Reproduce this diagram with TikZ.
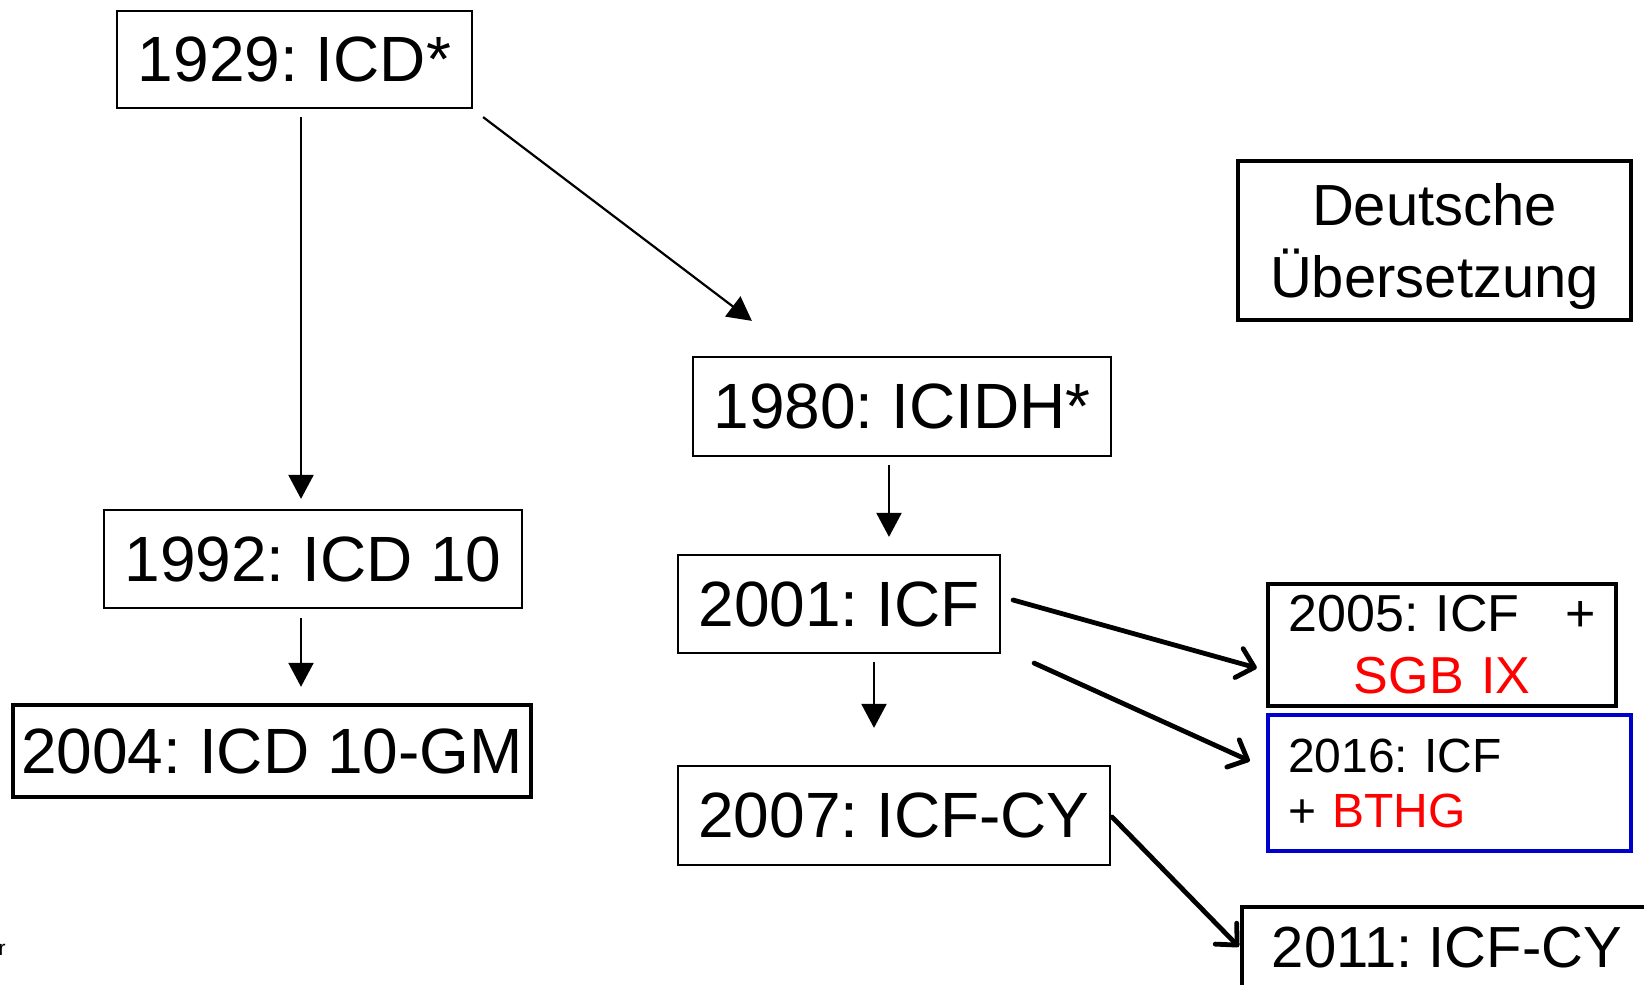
\documentclass[tikz,border=0pt]{standalone}
\usepackage{fontspec}
\setmainfont{Liberation Sans}
\usetikzlibrary{arrows.meta}
\definecolor{boxblue}{RGB}{0,0,204}
\definecolor{txtred}{RGB}{255,0,0}
\frenchspacing
\begin{document}
\begin{tikzpicture}[x=0.5pt,y=-0.5pt,
  box/.style={draw, line width=1.1pt, inner sep=0pt, align=center, font=\fontsize{32}{38}\selectfont},
  boldbox/.style={box, line width=2.2pt},
  conn/.style={line width=1.1pt, -{Triangle[width=12.5pt,length=12pt]}},
  boldconn/.style={line width=2.4pt, line cap=round, -{Straight Barb[length=8pt,width=15pt,round]}}]
\useasboundingbox (0,0) rectangle (1644,985);

\node[box, minimum width=177.5pt, minimum height=48.5pt] (n1929) at (294.5,59.5) {1929: ICD*};
\node[box, line width=1.6pt, minimum width=196.5pt, minimum height=79.5pt, font=\fontsize{29}{36}\selectfont] (ndeu) at (1434.5,240.5) {\rule{0pt}{27.5pt}Deutsche\\Übersetzung};
\node[box, minimum width=209pt, minimum height=49.5pt] (n1980) at (902,406.5) {1980: ICIDH*};
\node[box, minimum width=209pt, minimum height=49pt] (n1992) at (313,559) {1992: ICD 10};
\node[box, minimum width=161pt, minimum height=49pt] (n2001) at (839,604) {2001: ICF};
\node[boldbox, minimum width=259pt, minimum height=46pt] (n2004) at (272,751) {2004: ICD 10-GM};
\node[boldbox, minimum width=174pt, minimum height=61pt, text width=153.5pt, font=\fontsize{26}{31}\selectfont] (n2005) at (1442,645) {2005: ICF\hfill+\\\textcolor{txtred}{SGB IX}};
\node[boldbox, draw=boxblue, minimum height=68pt, text width=161.5pt, inner xsep=10pt, align=left, font=\fontsize{24}{27.5}\selectfont] (n2016) at (1449.5,783) {2016: ICF\\+ \textcolor{txtred}{BTHG}};
\node[box, minimum width=216pt, minimum height=49.5pt] (n2007) at (894,815.5) {2007: ICF-CY};
\node[boldbox, minimum width=205pt, minimum height=41pt, font=\fontsize{29}{35}\selectfont] (n2011) at (1447,948) {2011: ICF-CY};
\node[anchor=base east, inner sep=0pt, font=\fontsize{10.5}{12}\selectfont] (nr) at (6,955) {r};

\draw[conn] ([shift={(6.5,8)}]n1929.south) -- ([shift={(-12,-10)}]n1992.north);
\draw[conn] ([shift={(10,8)}]n1929.south east) -- ([shift={(60,-35)}]n1980.north west);
\draw[conn] ([shift={(-12,9)}]n1992.south) -- ([shift={(29,-16)}]n2004.north);
\draw[conn] ([shift={(-13,8)}]n1980.south) -- ([shift={(50,-17)}]n2001.north);
\draw[conn] ([shift={(35,8)}]n2001.south) -- ([shift={(-20,-37)}]n2007.north);
\draw[boldconn] ([shift={(12,-4)}]n2001.east) -- ([shift={(-9,23)}]n2005.west);
\draw[boldconn] ([shift={(33,9)}]n2001.south east) -- ([shift={(-16,-22)}]n2016.west);
\draw[boldconn] ([shift={(1,1.5)}]n2007.east) -- ([shift={(-1,42)}]n2011.north west);
\end{tikzpicture}
\end{document}
